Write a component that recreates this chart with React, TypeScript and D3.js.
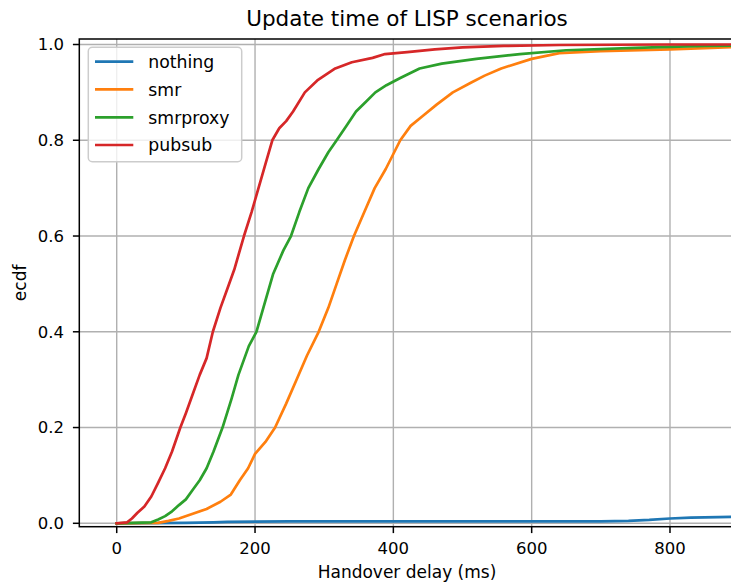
import React from "react";
import * as d3 from "d3";

const title = "Update time of LISP scenarios";
const xLabel = "Handover delay (ms)";
const yLabel = "ecdf";
const xTicks = [0, 200, 400, 600, 800];
const yTicks = [0, 0.2, 0.4, 0.6, 0.8, 1.0];
const seriesNames = ["nothing", "smr", "smrproxy", "pubsub"];
const seriesColors = ["#1f77b4", "#ff7f0e", "#2ca02c", "#d62728"];

const nothing: [number, number][] = [
  [0, 0], [100, 0.001], [140, 0.002], [160, 0.003], [250, 0.004], [700, 0.004],
  [740, 0.005], [770, 0.007], [800, 0.01], [830, 0.012], [870, 0.013], [900, 0.014],
];
const smr: [number, number][] = [
  [0, 0], [60, 0.001], [75, 0.005], [90, 0.01], [110, 0.02], [130, 0.03], [150, 0.045],
  [165, 0.06], [178, 0.09], [190, 0.115], [200, 0.145], [215, 0.17], [229, 0.2],
  [245, 0.25], [260, 0.3], [275, 0.35], [292, 0.4], [306, 0.45], [318, 0.5], [330, 0.55],
  [343, 0.6], [358, 0.65], [373, 0.7], [389, 0.74], [410, 0.8], [425, 0.83], [442, 0.85],
  [463, 0.875], [486, 0.9], [512, 0.92], [532, 0.935], [556, 0.95], [600, 0.97],
  [640, 0.982], [700, 0.986], [800, 0.99], [860, 0.993], [900, 0.995],
];
const smrproxy: [number, number][] = [
  [0, 0], [50, 0.002], [60, 0.008], [70, 0.015], [80, 0.025], [90, 0.038], [100, 0.05],
  [110, 0.07], [120, 0.09], [130, 0.115], [140, 0.15], [153, 0.2], [166, 0.26],
  [176, 0.31], [191, 0.37], [202, 0.4], [212, 0.45], [226, 0.52], [241, 0.57],
  [252, 0.6], [264, 0.65], [277, 0.7], [292, 0.74], [306, 0.775], [318, 0.8],
  [332, 0.83], [346, 0.86], [360, 0.88], [374, 0.9], [390, 0.915], [410, 0.93],
  [438, 0.95], [470, 0.96], [520, 0.97], [583, 0.98], [650, 0.988], [750, 0.993],
  [850, 0.997], [900, 0.998],
];
const pubsub: [number, number][] = [
  [0, 0], [15, 0.002], [22, 0.01], [30, 0.022], [40, 0.035], [50, 0.056], [60, 0.085],
  [70, 0.115], [80, 0.15], [92, 0.2], [100, 0.23], [110, 0.27], [120, 0.31],
  [130, 0.345], [139, 0.4], [150, 0.45], [160, 0.49], [170, 0.53], [184, 0.6],
  [195, 0.65], [205, 0.7], [215, 0.75], [225, 0.8], [235, 0.825], [245, 0.84],
  [255, 0.86], [272, 0.9], [290, 0.925], [316, 0.95], [340, 0.963], [370, 0.972],
  [388, 0.98], [420, 0.984], [460, 0.99], [500, 0.994], [560, 0.997], [640, 0.999],
  [800, 1.0], [900, 1.0],
];
const seriesData = [nothing, smr, smrproxy, pubsub];

const W = 731;
const H = 583;
const left = 79.3;
const right = 735;
const top = 39;
const bottom = 526.7;
const FONT = "'DejaVu Sans', sans-serif";

export default function App() {
  const x = d3.scaleLinear().domain([-54.1, 894]).range([left, right]);
  const y = d3.scaleLinear().domain([-0.0071, 1.0115]).range([bottom, top]);
  const line = d3
    .line<[number, number]>()
    .x((d) => x(d[0]))
    .y((d) => y(d[1]));

  const legX = 88.3;
  const legY = 47.3;
  const legW = 153.4;
  const legH = 114.4;
  const rowY = [61.7, 89.3, 117.3, 145];

  return (
    <svg
      width={W}
      height={H}
      style={{ position: "fixed", left: 0, top: 0, background: "#fff" }}
      fontFamily={FONT}
    >
      <rect x={0} y={0} width={W} height={H} fill="#fff" />
      <defs>
        <clipPath id="plot">
          <rect x={left} y={top} width={right - left} height={bottom - top} />
        </clipPath>
      </defs>
      {xTicks.map((t) => (
        <line key={"gx" + t} x1={x(t)} x2={x(t)} y1={top} y2={bottom} stroke="#b0b0b0" strokeWidth={1.4} />
      ))}
      {yTicks.map((t) => (
        <line key={"gy" + t} x1={left} x2={right} y1={y(t)} y2={y(t)} stroke="#b0b0b0" strokeWidth={1.4} />
      ))}
      <g clipPath="url(#plot)">
        {seriesData.map((s, i) => (
          <path
            key={seriesNames[i]}
            d={line(s) || ""}
            fill="none"
            stroke={seriesColors[i]}
            strokeWidth={2.7}
            strokeLinejoin="round"
            strokeLinecap="square"
          />
        ))}
      </g>
      <rect x={left} y={top} width={right - left} height={bottom - top} fill="none" stroke="#000" strokeWidth={1.5} />
      {xTicks.map((t) => (
        <g key={"xt" + t}>
          <line x1={x(t)} x2={x(t)} y1={bottom} y2={bottom + 6.4} stroke="#000" strokeWidth={1.5} />
          <text x={x(t)} y={554} textAnchor="middle" fontSize={16.5} fill="#000">
            {t}
          </text>
        </g>
      ))}
      {yTicks.map((t) => (
        <g key={"yt" + t}>
          <line x1={left - 6.4} x2={left} y1={y(t)} y2={y(t)} stroke="#000" strokeWidth={1.5} />
          <text x={64} y={y(t)} dy="0.36em" textAnchor="end" fontSize={16.5} fill="#000">
            {t.toFixed(1)}
          </text>
        </g>
      ))}
      <text x={407} y={578} textAnchor="middle" fontSize={17} fill="#000">
        {xLabel}
      </text>
      <text
        transform={`translate(26, ${(top + bottom) / 2}) rotate(-90)`}
        textAnchor="middle"
        fontSize={17}
        fill="#000"
      >
        {yLabel}
      </text>
      <text x={407} y={26} textAnchor="middle" fontSize={21.5} fill="#000">
        {title}
      </text>
      <rect x={legX} y={legY} width={legW} height={legH} rx={4} ry={4} fill="#fff" fillOpacity={0.8} stroke="#cccccc" strokeWidth={1.5} />
      {seriesNames.map((n, i) => (
        <g key={"leg" + n}>
          <line x1={95} x2={133.3} y1={rowY[i]} y2={rowY[i]} stroke={seriesColors[i]} strokeWidth={2.7} />
          <text x={148.3} y={rowY[i]} dy="0.36em" fontSize={17.3} fill="#000">
            {n}
          </text>
        </g>
      ))}
    </svg>
  );
}
